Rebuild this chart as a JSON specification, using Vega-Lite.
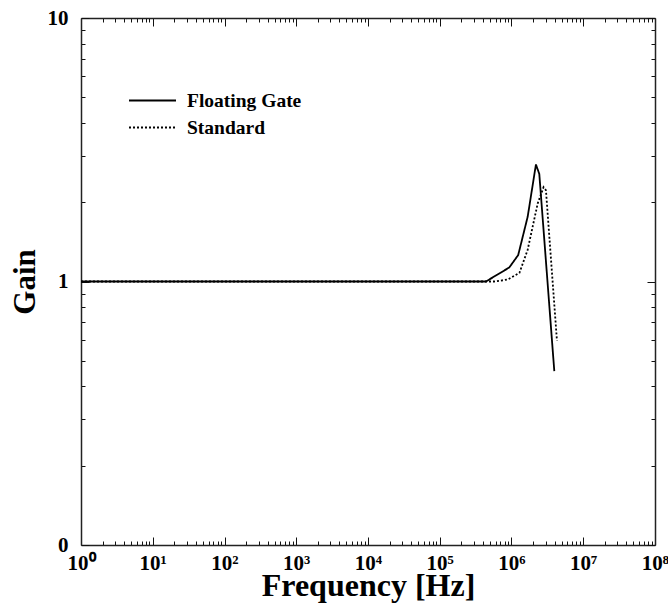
{
  "$schema": "https://vega.github.io/schema/vega-lite/v6.json",
  "width": 574,
  "height": 527,
  "autosize": "none",
  "padding": {"left": 81, "top": 18, "right": 13, "bottom": 63},
  "background": "white",
  "config": {
    "view": {"stroke": null},
    "font": "Liberation Serif",
    "axis": {
      "domainColor": "#222222",
      "domainWidth": 1.5,
      "tickColor": "#111111",
      "tickWidth": 1,
      "grid": false,
      "labelFont": "Liberation Serif",
      "labelFontWeight": "bold",
      "labelFontSize": 21,
      "labelColor": "black",
      "titleFont": "Liberation Serif",
      "titleFontWeight": "bold",
      "titleFontSize": 31,
      "titleColor": "black",
      "labelOverlap": false,
      "labelFlush": false
    }
  },
  "data": {
    "values": [
      {"series": "Floating Gate", "freq": 1, "gain": 1},
      {"series": "Floating Gate", "freq": 10, "gain": 1},
      {"series": "Floating Gate", "freq": 100, "gain": 1},
      {"series": "Floating Gate", "freq": 1000, "gain": 1},
      {"series": "Floating Gate", "freq": 10000, "gain": 1},
      {"series": "Floating Gate", "freq": 100000, "gain": 1},
      {"series": "Floating Gate", "freq": 440000, "gain": 1},
      {"series": "Floating Gate", "freq": 930000, "gain": 1.13},
      {"series": "Floating Gate", "freq": 1240000, "gain": 1.26},
      {"series": "Floating Gate", "freq": 1680000, "gain": 1.76},
      {"series": "Floating Gate", "freq": 2190000, "gain": 2.78},
      {"series": "Floating Gate", "freq": 2440000, "gain": 2.56},
      {"series": "Floating Gate", "freq": 3950000, "gain": 0.457},
      {"series": "Standard", "freq": 1, "gain": 1},
      {"series": "Standard", "freq": 100000, "gain": 1},
      {"series": "Standard", "freq": 575000, "gain": 1},
      {"series": "Standard", "freq": 880000, "gain": 1.017},
      {"series": "Standard", "freq": 1290000, "gain": 1.078},
      {"series": "Standard", "freq": 1680000, "gain": 1.32},
      {"series": "Standard", "freq": 2320000, "gain": 1.98},
      {"series": "Standard", "freq": 2800000, "gain": 2.28},
      {"series": "Standard", "freq": 3020000, "gain": 2.22},
      {"series": "Standard", "freq": 4300000, "gain": 0.596}
    ]
  },
  "resolve": {"axis": {"x": "independent", "y": "independent"}},
  "layer": [
    {
      "mark": {"type": "line", "color": "black", "strokeWidth": 1.8, "clip": true},
      "encoding": {
        "x": {
          "field": "freq", "type": "quantitative",
          "scale": {"type": "log", "domain": [1, 100000000], "nice": false},
          "axis": {
            "orient": "bottom",
            "title": "Frequency [Hz]",
            "titleFontSize": 32,
            "titlePadding": -7,
            "values": [1,2,3,4,5,6,7,8,9,10,20,30,40,50,60,70,80,90,100,200,300,400,500,600,700,800,900,1000,2000,3000,4000,5000,6000,7000,8000,9000,10000,20000,30000,40000,50000,60000,70000,80000,90000,100000,200000,300000,400000,500000,600000,700000,800000,900000,1000000,2000000,3000000,4000000,5000000,6000000,7000000,8000000,9000000,10000000,20000000,30000000,40000000,50000000,60000000,70000000,80000000,90000000,100000000],
            "labelExpr": "abs(log(datum.value)/LN10 - round(log(datum.value)/LN10)) < 0.001 ? '10' + ['⁰','¹','²','³','⁴','⁵','⁶','⁷','⁸'][round(log(datum.value)/LN10)] : ''",
            "tickSize": {"condition": {"test": "abs(log(datum.value)/LN10 - round(log(datum.value)/LN10)) < 0.001", "value": -8}, "value": -4},
            "labelPadding": 15
          }
        },
        "y": {
          "field": "gain", "type": "quantitative",
          "scale": {"type": "log", "domain": [0.1, 10], "nice": false},
          "axis": {
            "orient": "left",
            "title": "Gain",
            "titlePadding": 6,
            "values": [0.1,0.2,0.3,0.4,0.5,0.6,0.7,0.8,0.9,1,2,3,4,5,6,7,8,9,10],
            "labelExpr": "datum.value == 0.1 ? '0' : (datum.value == 1 ? '1' : (datum.value == 10 ? '10' : ''))",
            "tickSize": {"condition": {"test": "datum.value == 0.1 || datum.value == 1 || datum.value == 10", "value": -8}, "value": -4},
            "labelPadding": 21
          }
        },
        "strokeDash": {
          "field": "series", "type": "nominal",
          "scale": {"domain": ["Floating Gate", "Standard"], "range": [[1, 0], [2, 2]]},
          "legend": {
            "title": null,
            "orient": "none",
            "legendX": 47,
            "legendY": 70,
            "symbolType": "stroke",
            "symbolSize": 2209,
            "symbolStrokeWidth": 1.8,
            "symbolStrokeColor": "black",
            "clipHeight": 25,
            "labelFont": "Liberation Serif",
            "labelFontSize": 19.5,
            "labelFontWeight": "bold",
            "labelColor": "black",
            "labelOffset": 10,
            "padding": 0
          }
        }
      }
    },
    {
      "mark": {"type": "line", "opacity": 0},
      "encoding": {
        "x": {
          "field": "freq", "type": "quantitative",
          "scale": {"type": "log", "domain": [1, 100000000], "nice": false},
          "axis": {
            "orient": "top",
            "title": null,
            "labels": false,
            "values": [1,2,3,4,5,6,7,8,9,10,20,30,40,50,60,70,80,90,100,200,300,400,500,600,700,800,900,1000,2000,3000,4000,5000,6000,7000,8000,9000,10000,20000,30000,40000,50000,60000,70000,80000,90000,100000,200000,300000,400000,500000,600000,700000,800000,900000,1000000,2000000,3000000,4000000,5000000,6000000,7000000,8000000,9000000,10000000,20000000,30000000,40000000,50000000,60000000,70000000,80000000,90000000,100000000],
            "tickSize": {"condition": {"test": "abs(log(datum.value)/LN10 - round(log(datum.value)/LN10)) < 0.001", "value": -8}, "value": -4}
          }
        },
        "y": {
          "field": "gain", "type": "quantitative",
          "scale": {"type": "log", "domain": [0.1, 10], "nice": false},
          "axis": {
            "orient": "right",
            "title": null,
            "labels": false,
            "values": [0.1,0.2,0.3,0.4,0.5,0.6,0.7,0.8,0.9,1,2,3,4,5,6,7,8,9,10],
            "tickSize": {"condition": {"test": "datum.value == 0.1 || datum.value == 1 || datum.value == 10", "value": -8}, "value": -4}
          }
        }
      }
    }
  ]
}
